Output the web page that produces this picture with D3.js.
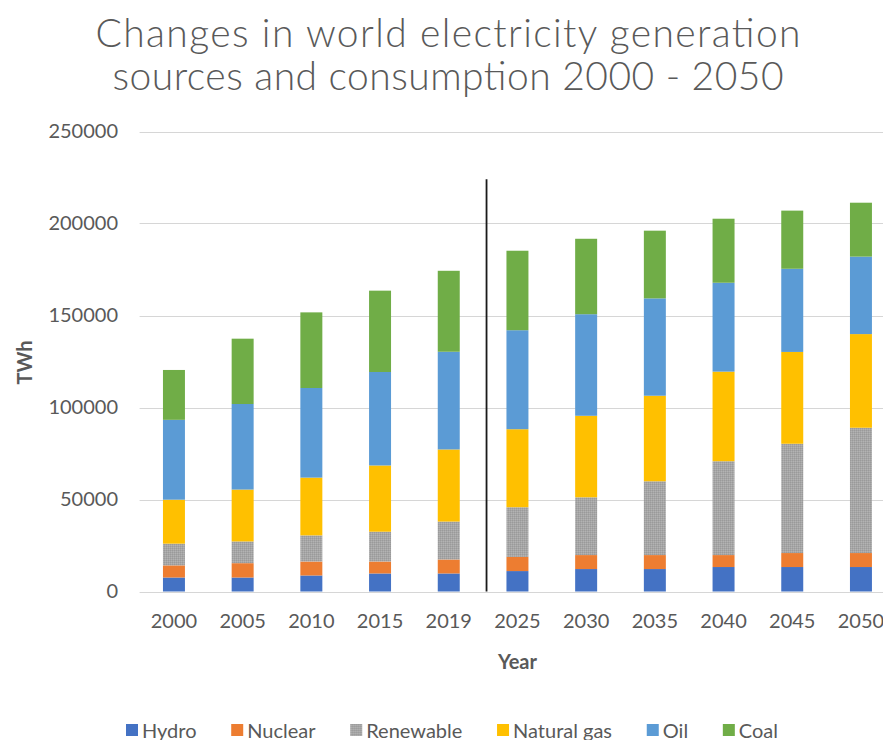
<!DOCTYPE html>
<html>
<head>
<meta charset="utf-8">
<script src="https://cdn.jsdelivr.net/npm/d3@7/dist/d3.min.js"></script>
<style>
  html, body { margin: 0; padding: 0; background: #ffffff; }
  svg { display: block; }
</style>
</head>
<body>
<svg id="chart" width="883" height="740"></svg>
<script>
// Years on the category axis
const years = ["2000", "2005", "2010", "2015", "2019", "2025", "2030", "2035", "2040", "2045", "2050"];

// Generation by source, TWh
const hydro     = [7600, 7600, 8700, 9800, 9800, 11100, 12200, 12200, 13300, 13300, 13300];
const nuclear   = [6600, 7800, 7600, 6500, 7600, 7700, 7600, 7600, 6500, 7600, 7600];
const renewable = [11800, 11800, 14200, 16200, 20600, 27000, 31400, 40100, 51000, 59400, 68100];
const naturalGas= [23900, 28200, 31400, 36000, 39200, 42400, 44300, 46500, 48700, 49900, 50900];
const oil       = [43400, 46500, 48700, 50800, 53100, 53800, 55200, 52900, 48300, 45200, 42100];
const coal      = [27100, 35500, 41100, 44200, 44000, 43200, 41000, 36800, 34800, 31600, 29300];

const seriesNames = ["Hydro", "Nuclear", "Renewable", "Natural gas", "Oil", "Coal"];
const seriesColors = ["#4472c4", "#ed7d31", "url(#renewPattern)", "#ffc000", "#5b9bd5", "#70ad47"];

// Y axis ticks and the historical / projection divider height
const yTicks = [0, 50000, 100000, 150000, 200000, 250000];
const dividerTop = 224000;

const title = ["Changes in world electricity generation", "sources and consumption 2000 - 2050"];

const svg = d3.select("#chart");
const textColor = "#595959";
const uiFont = "Lato, 'Open Sans', sans-serif";

// Fine dither used for the renewable segments
const defs = svg.append("defs");
const pat = defs.append("pattern")
  .attr("id", "renewPattern")
  .attr("patternUnits", "userSpaceOnUse")
  .attr("width", 2).attr("height", 2);
pat.append("rect").attr("width", 2).attr("height", 2).attr("fill", "#a6a6a6");
pat.append("rect").attr("width", 1).attr("height", 1).attr("fill", "#9a9a9a");
pat.append("rect").attr("x", 1).attr("y", 1).attr("width", 1).attr("height", 1).attr("fill", "#b3b3b3");

// Scales
const x = d3.scaleBand()
  .domain(years)
  .range([139.6, 895.3])
  .paddingInner(0.68)
  .paddingOuter(0.34);

const y = d3.scaleLinear()
  .domain([0, 250000])
  .range([591.5, 131.5]);

// Gridlines
svg.append("g")
  .selectAll("line")
  .data(yTicks)
  .join("line")
  .attr("x1", 139.6).attr("x2", 895)
  .attr("y1", d => Math.round(y(d)) + 0.5)
  .attr("y2", d => Math.round(y(d)) + 0.5)
  .attr("stroke", "#d6d6d6")
  .attr("stroke-width", 1);

// Y axis labels
const yAxis = d3.axisLeft(y).tickValues(yTicks).tickSize(0).tickPadding(0).tickFormat(d3.format("d"));
const yg = svg.append("g").attr("transform", "translate(118,0)").call(yAxis);
yg.select(".domain").remove();
yg.selectAll("text")
  .attr("fill", textColor)
  .style("font-family", uiFont)
  .style("font-size", "20px");

// X axis labels
const xAxis = d3.axisBottom(x).tickSize(0).tickPadding(0);
const xg = svg.append("g").attr("transform", "translate(0,614)").call(xAxis);
xg.select(".domain").remove();
xg.selectAll("text")
  .attr("fill", textColor)
  .style("font-family", uiFont)
  .style("font-size", "20px");

// Stacked bars
const rows = years.map((yr, i) => ({
  year: yr,
  Hydro: hydro[i], Nuclear: nuclear[i], Renewable: renewable[i],
  "Natural gas": naturalGas[i], Oil: oil[i], Coal: coal[i]
}));
const stacked = d3.stack().keys(seriesNames)(rows);

svg.append("g")
  .selectAll("g")
  .data(stacked)
  .join("g")
  .attr("fill", (d, i) => seriesColors[i])
  .selectAll("rect")
  .data(d => d)
  .join("rect")
  .attr("x", d => x(d.data.year))
  .attr("width", x.bandwidth())
  .attr("y", d => y(d[1]))
  .attr("height", d => y(d[0]) - y(d[1]));

// Divider between historical values and projections
const step = x.step();
const divX = x("2019") + x.bandwidth() / 2 + step * 0.55;
svg.append("line")
  .attr("x1", divX).attr("x2", divX)
  .attr("y1", y(dividerTop)).attr("y2", y(0))
  .attr("stroke", "#1a1a1a")
  .attr("stroke-width", 1.8);

// Axis titles
svg.append("text")
  .attr("transform", `translate(24,${(y(0) + y(250000)) / 2 + 1}) rotate(-90)`)
  .attr("text-anchor", "middle")
  .attr("dominant-baseline", "central")
  .attr("fill", textColor)
  .style("font-family", uiFont)
  .style("font-weight", "bold")
  .style("font-size", "20px")
  .text("TWh");

svg.append("text")
  .attr("x", (x.range()[0] + x.range()[1]) / 2)
  .attr("y", 669)
  .attr("text-anchor", "middle")
  .attr("fill", textColor)
  .style("font-family", uiFont)
  .style("font-weight", "bold")
  .style("font-size", "20px")
  .text("Year");

// Title: two lines, letter spacing stretched to each line's width
const titleWidths = [705, 671];
svg.append("g")
  .selectAll("text")
  .data(title)
  .join("text")
  .attr("x", 448)
  .attr("y", (d, i) => 47 + i * 43)
  .attr("text-anchor", "middle")
  .attr("textLength", (d, i) => titleWidths[i])
  .attr("lengthAdjust", "spacing")
  .attr("fill", textColor)
  .style("font-family", "'Lato', 'Open Sans', sans-serif")
  .style("font-weight", "300")
  .style("font-size", "39px")
  .text(d => d);

// Legend
const legend = svg.append("g");
const items = legend.selectAll("g")
  .data(seriesNames)
  .join("g");
items.append("rect")
  .attr("width", 12).attr("height", 12)
  .attr("y", -6)
  .attr("fill", (d, i) => seriesColors[i]);
items.append("text")
  .attr("x", 16)
  .attr("dominant-baseline", "central")
  .attr("fill", textColor)
  .style("font-family", uiFont)
  .style("font-size", "20px")
  .text(d => d);
const widths = [];
items.each(function () {
  const tw = d3.select(this).select("text").node().getComputedTextLength();
  widths.push(16 + tw);
});
const legendStart = 126, legendEnd = 778;
const gap = (legendEnd - legendStart - d3.sum(widths)) / (widths.length - 1);
items.attr("transform", (d, i) => {
  const tx = legendStart + d3.sum(widths.slice(0, i)) + gap * i;
  return `translate(${tx},730)`;
});
</script>
</body>
</html>
